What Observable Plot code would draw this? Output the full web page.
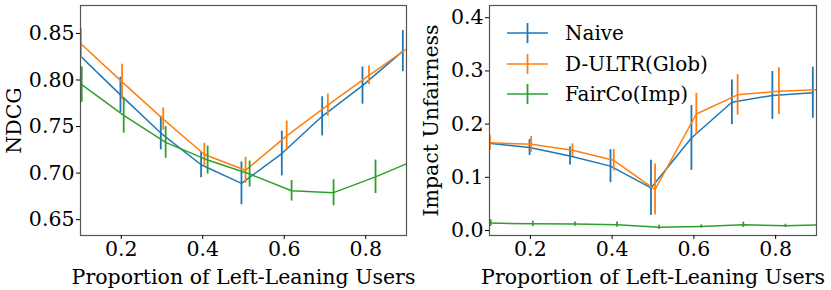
<!DOCTYPE html>
<html>
<head>
<meta charset="utf-8">
<script src="https://cdn.jsdelivr.net/npm/d3@7"></script>
<script src="https://cdn.jsdelivr.net/npm/@observablehq/plot@0.6"></script>
<style>
  html, body { margin: 0; padding: 0; background: white; }
  #wrap { position: relative; width: 831px; height: 290px; overflow: hidden; }
  #left, #right { position: absolute; top: 0; }
  #left { left: 0; }
  #right { left: 416px; }
  .legend { position: absolute; left: 506px; top: 0; font-family: "DejaVu Serif", serif; font-size: 20px; }
  .row { position: absolute; left: 0; height: 30px; width: 240px; }
  .row svg { position: absolute; left: 0; top: 0; }
  .row span { position: absolute; left: 59px; top: 0; line-height: 30px; white-space: nowrap; }
</style>
</head>
<body>
<div id="wrap">
  <div id="left"></div>
  <div id="right"></div>
  <div class="legend" id="legend"></div>
</div>
<script>
// ---- data ----
const proportions = [0.1, 0.2, 0.3, 0.4, 0.5, 0.6, 0.7, 0.8, 0.9];
const seriesNames = ["Naive", "D-ULTR(Glob)", "FairCo(Imp)"];

const ndcgNaive    = [0.826, 0.784, 0.743, 0.709, 0.689, 0.721, 0.761, 0.794, 0.831];
const ndcgNaiveErr = [0.020, 0.019, 0.018, 0.014, 0.023, 0.024, 0.021, 0.020, 0.022];
const ndcgGlob     = [0.839, 0.798, 0.758, 0.720, 0.703, 0.740, 0.773, 0.805, 0.836];
const ndcgGlobErr  = [0.016, 0.019, 0.012, 0.012, 0.014, 0.016, 0.012, 0.010, 0.012];
const ndcgFair     = [0.795, 0.762, 0.733, 0.714, 0.699, 0.681, 0.679, 0.696, 0.715];
const ndcgFairErr  = [0.019, 0.019, 0.017, 0.015, 0.014, 0.011, 0.014, 0.018, 0.018];

const unfNaive    = [0.164, 0.156, 0.140, 0.121, 0.080, 0.174, 0.241, 0.254, 0.259];
const unfNaiveErr = [0.015, 0.015, 0.017, 0.031, 0.052, 0.061, 0.042, 0.045, 0.048];
const unfGlob     = [0.165, 0.162, 0.151, 0.132, 0.077, 0.219, 0.255, 0.262, 0.265];
const unfGlobErr  = [0.014, 0.015, 0.012, 0.020, 0.048, 0.039, 0.038, 0.044, 0.044];
const unfFair     = [0.014, 0.0125, 0.012, 0.011, 0.006, 0.0075, 0.0107, 0.0088, 0.011];
const unfFairErr  = [0.006, 0.005, 0.004, 0.005, 0.004, 0.003, 0.005, 0.003, 0.004];

const xTicks = [0.2, 0.4, 0.6, 0.8];
const ndcgTicks = [0.65, 0.70, 0.75, 0.80, 0.85];
const unfTicks = [0.0, 0.1, 0.2, 0.3, 0.4];

// ---- styling ----
const colors = ["#1f77b4", "#ff7f0e", "#2ca02c"];
const shifts = [0.99, 1.01, 1.03]; // horizontal dodge factor per series

function rows(valsList, errList) {
  const out = [];
  valsList.forEach((vals, s) => {
    vals.forEach((v, i) => {
      out.push({series: seriesNames[s], s, x: proportions[i] * shifts[s], y: v, lo: v - errList[s][i], hi: v + errList[s][i]});
    });
  });
  return out;
}

function makePlot(data, yDomain, yTicks, yFmt, yLabel, opts) {
  const marks = [];
  for (let s = 0; s < 3; s++) {
    const d = data.filter(r => r.s === s);
    marks.push(Plot.line(d, {x: "x", y: "y", stroke: colors[s], strokeWidth: 1.5, clip: true}));
    marks.push(Plot.ruleX(d, {x: "x", y1: "lo", y2: "hi", stroke: colors[s], strokeWidth: 1.8, clip: true}));
  }
  marks.push(Plot.frame({stroke: "#555", strokeWidth: 1.2}));
  marks.push(Plot.axisX({ticks: xTicks, tickFormat: d3.format(".1f"), tickSize: 4, tickPadding: 2,
    label: "Proportion of Left-Leaning Users", labelAnchor: "center", labelArrow: "none", labelOffset: 48}));
  marks.push(Plot.axisY({ticks: yTicks, tickFormat: d3.format(yFmt), tickSize: 4, tickPadding: 2,
    label: yLabel, labelAnchor: "center", labelArrow: "none", labelOffset: opts.yLabelOffset}));
  return Plot.plot({
    width: 415, height: 290,
    marginLeft: opts.marginLeft, marginRight: opts.marginRight, marginTop: 5, marginBottom: 55,
    x: {domain: [0.1, 0.9]},
    y: {domain: yDomain},
    style: {fontFamily: "'DejaVu Serif', serif", fontSize: "20.5px", color: "black", background: "white", overflow: "visible"},
    marks
  });
}

const leftData = rows([ndcgNaive, ndcgGlob, ndcgFair], [ndcgNaiveErr, ndcgGlobErr, ndcgFairErr]);
const rightData = rows([unfNaive, unfGlob, unfFair], [unfNaiveErr, unfGlobErr, unfFairErr]);

document.getElementById("left").appendChild(
  makePlot(leftData, [0.633, 0.880], ndcgTicks, ".2f", "NDCG", {marginLeft: 80, marginRight: 9, yLabelOffset: 74}));
document.getElementById("right").appendChild(
  makePlot(rightData, [-0.0094, 0.423], unfTicks, ".1f", "Impact Unfairness", {marginLeft: 73, marginRight: 15, yLabelOffset: 66}));

// ---- legend ----
const legend = document.getElementById("legend");
seriesNames.forEach((name, s) => {
  const row = document.createElement("div");
  row.className = "row";
  row.style.top = (18 + s * 30.5) + "px";
  row.innerHTML = `<svg width="44" height="30"><line x1="1" x2="42" y1="15" y2="15" stroke="${colors[s]}" stroke-width="1.5"/><line x1="21.5" x2="21.5" y1="5" y2="25" stroke="${colors[s]}" stroke-width="1.8"/></svg><span>${name}</span>`;
  legend.appendChild(row);
});
</script>
</body>
</html>
